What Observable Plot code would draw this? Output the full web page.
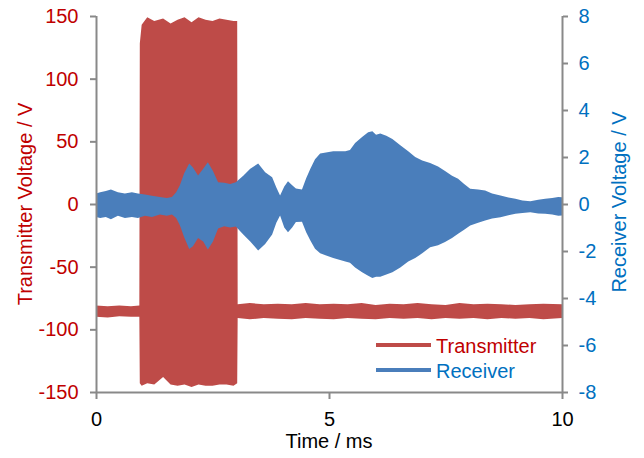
<!DOCTYPE html>
<html>
<head>
<meta charset="utf-8">
<script src="https://cdn.jsdelivr.net/npm/d3@7"></script>
<script src="https://cdn.jsdelivr.net/npm/@observablehq/plot@0.6"></script>
<style>
  html, body { margin: 0; padding: 0; background: #fff; }
  #chart { width: 644px; height: 458px; }
</style>
</head>
<body>
<div id="chart"></div>
<script>
// ---- Data ----
// Transmitter voltage envelope (V, left axis)
const txTime = [0, 0.25, 0.5, 0.75, 0.93, 0.94, 0.98, 1.1, 1.25, 1.44, 1.6, 1.75, 1.9, 2.05, 2.2, 2.35, 2.5, 2.65, 2.8, 2.95, 3.03,
                3.04, 3.3, 3.6, 3.9, 4.2, 4.5, 4.8, 5.1, 5.4, 5.7, 6.0, 6.3, 6.6, 6.9, 7.2, 7.5, 7.8, 8.1, 8.4, 8.7, 9.0, 9.3, 9.6, 10];
const txHigh = [-81, -81.5, -81, -81.5, -81, 128, 143, 149, 146, 148, 144, 147, 149, 145, 149, 147, 146, 148, 147, 146, 146,
                -80, -79, -80, -79.5, -80, -79, -80, -79.5, -80, -79, -80.5, -79.5, -80, -79, -80, -80.5, -79, -80, -79.5, -80, -80.5, -80, -79.5, -80];
const txLow  = [-90, -90.5, -89.5, -90, -90, -143, -145, -143, -144, -138, -144, -145, -144, -146, -144, -145, -145, -144, -144, -145, -143,
                -91, -92, -91, -91.5, -92, -91, -91.5, -92, -91, -91.5, -92, -91, -91.5, -91, -92, -91, -91.5, -91, -92, -91, -91.5, -91, -92, -91];

// Receiver voltage envelope (V, right axis)
const rxTime = [0, 0.09, 0.21, 0.32, 0.47, 0.62, 0.77, 0.9, 1.05, 1.2, 1.37, 1.52, 1.63, 1.72, 1.8, 1.89, 2.0, 2.08, 2.19, 2.3, 2.4,
                2.51, 2.62, 2.75, 2.88, 3.0, 3.16, 3.31, 3.48, 3.63, 3.78, 3.87, 3.95, 4.04, 4.12, 4.21, 4.29, 4.42, 4.51, 4.6, 4.7,
                4.81, 5.09, 5.35, 5.45, 5.56, 5.71, 5.84, 5.93, 6.01, 6.1, 6.23, 6.36, 6.53, 6.7, 6.85, 7.0, 7.17, 7.34, 7.49, 7.64,
                7.77, 7.9, 8.03, 8.2, 8.35, 8.5, 8.68, 8.85, 9.0, 9.15, 9.32, 9.49, 9.64, 9.79, 9.92, 10];
const rxHigh = [0.45, 0.5, 0.55, 0.62, 0.5, 0.45, 0.5, 0.45, 0.4, 0.35, 0.3, 0.26, 0.3, 0.5, 0.8, 1.3, 1.72, 1.55, 1.21, 1.5, 1.78,
                1.4, 0.93, 0.9, 0.85, 0.93, 1.2, 1.5, 1.72, 1.35, 1.14, 0.7, 0.36, 0.75, 0.97, 0.8, 0.66, 0.62, 1.1, 1.5, 1.9,
                2.15, 2.25, 2.25, 2.3, 2.6, 2.85, 3.05, 3.1, 2.95, 3.0, 2.9, 2.77, 2.5, 2.25, 2.0, 1.85, 1.75, 1.6, 1.4, 1.2,
                1.07, 0.85, 0.65, 0.62, 0.57, 0.45, 0.36, 0.28, 0.22, 0.15, 0.12, 0.18, 0.22, 0.26, 0.3, 0.29];
const rxLow  = [-0.55, -0.6, -0.55, -0.65, -0.5, -0.6, -0.55, -0.6, -0.5, -0.55, -0.45, -0.5, -0.45, -0.6, -0.9, -1.4, -1.92, -1.8, -1.45, -1.6, -1.94,
                -1.6, -1.04, -0.95, -1.0, -0.96, -1.3, -1.6, -1.98, -1.7, -1.3, -0.8, -0.49, -1.0, -1.2, -1.0, -0.77, -0.75, -1.2, -1.55, -1.9,
                -2.1, -2.3, -2.45, -2.5, -2.7, -2.9, -3.05, -3.15, -3.1, -3.1, -3.0, -2.9, -2.7, -2.45, -2.3, -2.1, -1.84, -1.75, -1.62, -1.45,
                -1.27, -1.1, -0.91, -0.8, -0.7, -0.62, -0.56, -0.48, -0.42, -0.38, -0.35, -0.4, -0.42, -0.45, -0.5, -0.49];

// Tick labels
const xTicks = [0, 5, 10];
const leftTicks = [-150, -100, -50, 0, 50, 100, 150];
const rightTicks = [-8, -6, -4, -2, 0, 2, 4, 6, 8];

const seriesNames = ["Transmitter", "Receiver"];
const xTitle = "Time / ms";
const leftTitle = "Transmitter Voltage / V";
const rightTitle = "Receiver Voltage / V";

// ---- Styles ----
const RED_FILL = "#BE4B48", BLUE_FILL = "#4A7EBB";
const RED_TEXT = "#C00000", BLUE_TEXT = "#0070C0";
const AXIS = "#898989";
const FONT = "'Liberation Sans', Arial, sans-serif";

// scale factor right axis -> left axis
const k = 150 / 8;

const tx = txTime.map((t, i) => ({t, hi: txHigh[i], lo: txLow[i]}));
const rx = rxTime.map((t, i) => ({t, hi: rxHigh[i] * k, lo: rxLow[i] * k}));

const W = 644, H = 458;
const mL = 96, mR = 82, mT = 16, mB = 66;

const plot = Plot.plot({
  width: W,
  height: H,
  marginLeft: mL,
  marginRight: mR,
  marginTop: mT,
  marginBottom: mB,
  style: {fontFamily: FONT, fontSize: "20px", background: "#fff", overflow: "visible"},
  x: {domain: [0, 10]},
  y: {domain: [-150, 150]},
  marks: [
    Plot.areaY(tx, {x: "t", y1: "lo", y2: "hi", fill: RED_FILL, curve: "linear"}),
    Plot.areaY(rx, {x: "t", y1: "lo", y2: "hi", fill: BLUE_FILL, curve: "linear"}),
    Plot.ruleX([0, 10], {stroke: AXIS, strokeWidth: 2}),
    Plot.ruleY([-150], {stroke: AXIS, strokeWidth: 2}),
    Plot.axisX(xTicks, {anchor: "bottom", tickSize: 7, tickPadding: 12, stroke: AXIS, strokeWidth: 2, fill: "#000", label: null, tickFormat: d => String(d)}),
    Plot.axisY(leftTicks, {anchor: "left", tickSize: 6, tickPadding: 12, stroke: AXIS, strokeWidth: 2, fill: RED_TEXT, label: null, tickFormat: d => String(d)}),
    Plot.axisY(rightTicks.map(v => v * k), {anchor: "right", tickSize: 5, tickPadding: 11, stroke: AXIS, strokeWidth: 2, fill: BLUE_TEXT, label: null, tickFormat: d => String(Math.round(d / k))})
  ]
});

document.getElementById("chart").appendChild(plot);

// Titles and legend drawn onto the same SVG
const svg = d3.select(plot);
const g = svg.append("g").attr("font-family", FONT).attr("font-size", 20);

g.append("text").attr("x", 329).attr("y", 448).attr("text-anchor", "middle").attr("fill", "#000").text(xTitle);
g.append("text").attr("transform", "translate(32,204) rotate(-90)").attr("text-anchor", "middle").attr("fill", RED_TEXT).text(leftTitle);
g.append("text").attr("transform", "translate(626,202) rotate(-90)").attr("text-anchor", "middle").attr("fill", BLUE_TEXT).text(rightTitle);

const legend = [
  {name: seriesNames[0], stroke: RED_FILL, text: RED_TEXT, y: 345},
  {name: seriesNames[1], stroke: BLUE_FILL, text: BLUE_TEXT, y: 370}
];
legend.forEach(l => {
  g.append("line").attr("x1", 376).attr("x2", 431).attr("y1", l.y).attr("y2", l.y)
    .attr("stroke", l.stroke).attr("stroke-width", 4);
  g.append("text").attr("x", 436).attr("y", l.y + 7.5).attr("text-anchor", "start").attr("fill", l.text).text(l.name);
});
</script>
</body>
</html>
